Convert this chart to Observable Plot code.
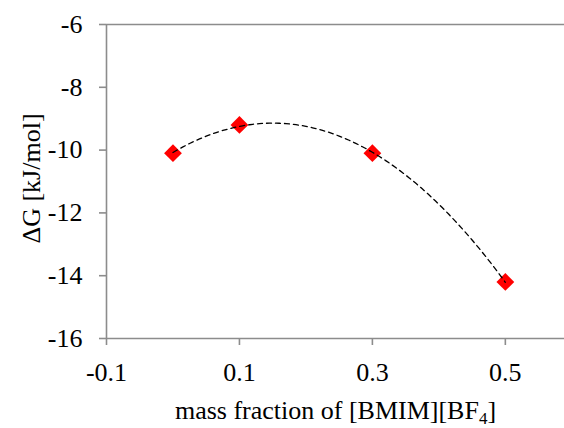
<!DOCTYPE html>
<html><head><meta charset="utf-8">
<script src="https://cdn.jsdelivr.net/npm/d3@7"></script>
<script src="https://cdn.jsdelivr.net/npm/@observablehq/plot@0.6"></script>
<style>html,body{margin:0;padding:0;background:#fff} svg{display:block}</style>
</head><body><div id="chart"></div>
<script>
const massFraction = [0, 0.1, 0.3, 0.5];
const deltaG = [-10.1, -9.2, -10.1, -14.2];
const xTicks = [-0.1, 0.1, 0.3, 0.5];
const xTickLabels = ["-0.1", "0.1", "0.3", "0.5"];
const yTicks = [-16, -14, -12, -10, -8, -6];
const yTickLabels = ["-16", "-14", "-12", "-10", "-8", "-6"];
const xLabelMain = "mass fraction of [BMIM][BF";
const xLabelSub = "4";
const xLabelEnd = "]";
const yLabel = "ΔG [kJ/mol]";

const points = massFraction.map((x, i) => ({x, y: deltaG[i]}));

// Order-2 polynomial trendline (least squares) fitted to the data, as in the source chart
function polyfit2(xs, ys) {
  const S = k => d3.sum(xs, x => x ** k);
  const T = k => d3.sum(xs, (x, i) => x ** k * ys[i]);
  const A = [[S(0), S(1), S(2)], [S(1), S(2), S(3)], [S(2), S(3), S(4)]];
  const B = [T(0), T(1), T(2)];
  const n = 3;
  for (let i = 0; i < n; i++) {
    let p = i;
    for (let r = i + 1; r < n; r++) if (Math.abs(A[r][i]) > Math.abs(A[p][i])) p = r;
    [A[i], A[p]] = [A[p], A[i]]; [B[i], B[p]] = [B[p], B[i]];
    for (let r = i + 1; r < n; r++) {
      const f = A[r][i] / A[i][i];
      for (let c = i; c < n; c++) A[r][c] -= f * A[i][c];
      B[r] -= f * B[i];
    }
  }
  const coef = [0, 0, 0];
  for (let i = n - 1; i >= 0; i--) {
    let s = B[i];
    for (let c = i + 1; c < n; c++) s -= A[i][c] * coef[c];
    coef[i] = s / A[i][i];
  }
  return coef;
}
const [c0, c1, c2] = polyfit2(massFraction, deltaG);
const xMin = d3.min(massFraction), xMax = d3.max(massFraction);
const trend = d3.range(0, 101).map(k => {
  const x = xMin + (xMax - xMin) * k / 100;
  return {x, y: c0 + c1 * x + c2 * x * x};
});

const axisColor = "#8c8c8c";
const font = "'Liberation Serif', 'Times New Roman', serif";
const fs = 26;

const chart = Plot.plot({
  width: 564, height: 428,
  marginLeft: 106, marginRight: 0, marginTop: 24, marginBottom: 90,
  style: {fontFamily: font, fontSize: fs + "px", color: "#000", background: "#fff", overflow: "visible"},
  x: {domain: [-0.1, 0.589]},
  y: {domain: [-16, -6]},
  marks: [
    Plot.ruleY([-6], {stroke: axisColor, strokeWidth: 1.6}),
    Plot.ruleY([-16], {stroke: axisColor, strokeWidth: 1.6}),
    Plot.ruleX([-0.1], {y1: -16, y2: -6, stroke: axisColor, strokeWidth: 1.6}),
    Plot.axisY({ticks: yTicks, tickSize: 7, tickPadding: 17, stroke: axisColor, strokeWidth: 1.6, fill: "#000",
      fontSize: fs, tickFormat: d => yTickLabels[yTicks.indexOf(d)], label: null}),
    Plot.axisX({ticks: xTicks, tickSize: 7, tickPadding: 17, stroke: axisColor, strokeWidth: 1.6, fill: "#000",
      fontSize: fs, tickFormat: d => xTickLabels[xTicks.indexOf(d)], label: null}),
    Plot.dot(points, {x: "x", y: "y", symbol: "diamond2", r: 8, fill: "#ff0000", stroke: "none"}),
    Plot.line(trend, {x: "x", y: "y", stroke: "#000", strokeWidth: 1.3, strokeDasharray: "5,4"}),
    Plot.text([yLabel], {frameAnchor: "left", text: d => d, rotate: -90, dx: -75, dy: -3,
      fontSize: fs, fill: "#000", textAnchor: "middle", lineAnchor: "middle"}),
    Plot.text([xLabelMain + xLabelSub + xLabelEnd], {frameAnchor: "bottom", text: d => d, dy: 72,
      fontSize: fs, fill: "#000", textAnchor: "middle", lineAnchor: "middle"})
  ]
});

// render the subscript of BF4 as a real subscript
const ns = "http://www.w3.org/2000/svg";
chart.querySelectorAll("text").forEach(t => {
  if (t.textContent === xLabelMain + xLabelSub + xLabelEnd) {
    t.textContent = "";
    t.append(xLabelMain);
    const s = document.createElementNS(ns, "tspan");
    s.setAttribute("font-size", "17");
    s.setAttribute("dy", "5");
    s.textContent = xLabelSub;
    const e = document.createElementNS(ns, "tspan");
    e.setAttribute("dy", "-5");
    e.textContent = xLabelEnd;
    t.append(s, e);
  }
});
document.getElementById("chart").append(chart);
</script>
</body></html>
